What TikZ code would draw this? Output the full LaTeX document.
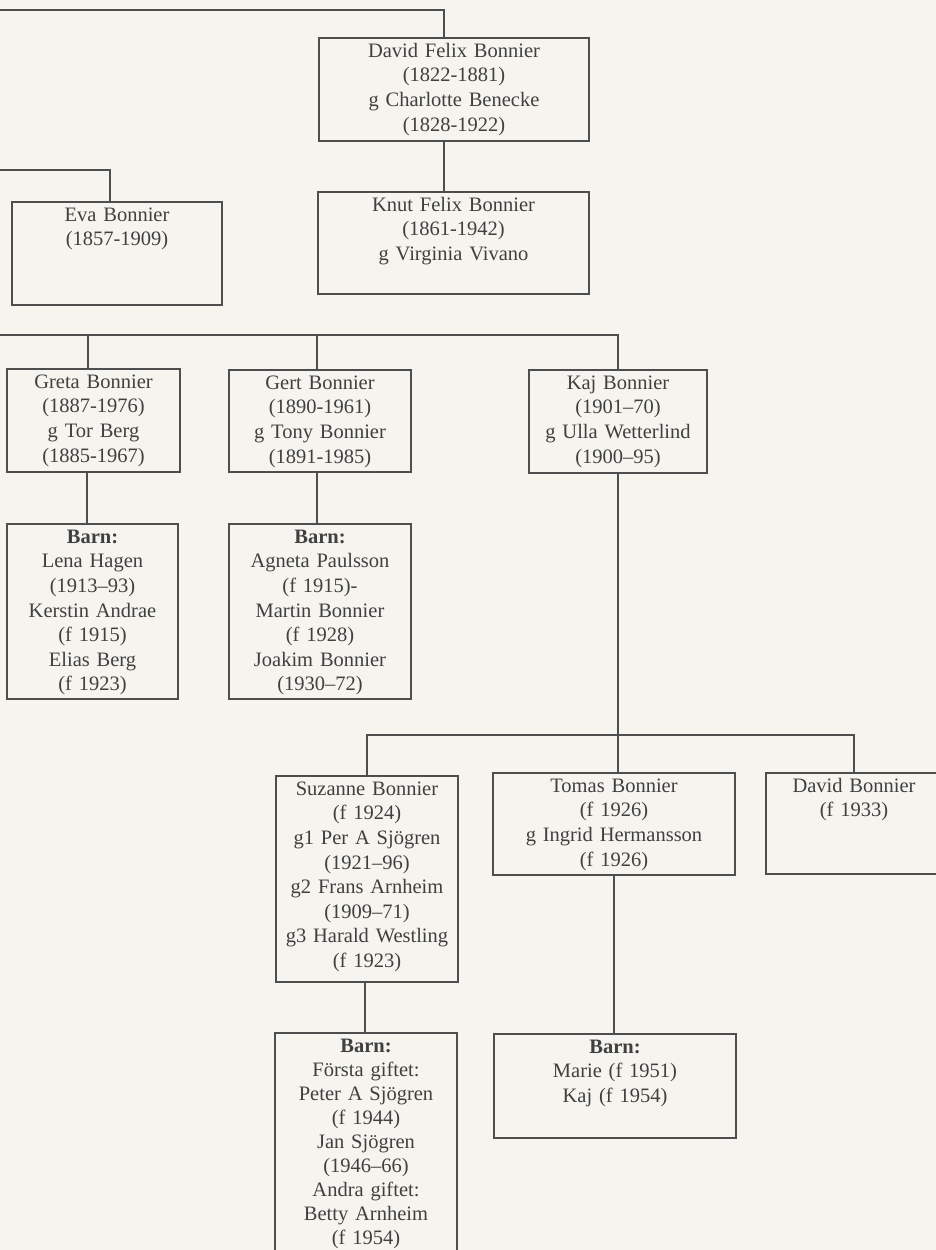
\documentclass[tikz,border=0pt]{standalone}
\usepackage{fontspec}
\setmainfont{Liberation Serif}
\definecolor{paper}{HTML}{F6F4EE}
\definecolor{ink}{HTML}{404040}
\definecolor{rulecol}{HTML}{4E4E4E}
\tikzset{
  famebox/.style={draw=rulecol, line width=1.3pt, rectangle, inner sep=0pt},
  conn/.style={draw=rulecol, line width=1.3pt},
  lbl/.style={text=ink, align=center, anchor=base, inner sep=0pt, text width=250pt,
    font=\fontsize{20.5}{24.6}\selectfont}
}
\begin{document}
\begin{tikzpicture}[x=1pt,y=-1pt]
\fill[paper] (0,0) rectangle (936,1250);
\useasboundingbox (0,0) rectangle (936,1250);
\clip (0,0) rectangle (936,1250);

% boxes
\node[famebox, minimum width=270pt, minimum height=103pt] (david)  at (454,89.5) {};
\node[famebox, minimum width=271pt, minimum height=102pt] (knut)   at (453.5,243) {};
\node[famebox, minimum width=210pt, minimum height=103pt] (eva)    at (117,253.5) {};
\node[famebox, minimum width=173pt, minimum height=103pt] (greta)  at (93.5,420.5) {};
\node[famebox, minimum width=182pt, minimum height=102pt] (gert)   at (320,421) {};
\node[famebox, minimum width=178pt, minimum height=103pt] (kaj)    at (618,421.5) {};
\node[famebox, minimum width=171pt, minimum height=175pt] (gretaB) at (92.5,611.5) {};
\node[famebox, minimum width=182pt, minimum height=175pt] (gertB)  at (320,611.5) {};
\node[famebox, minimum width=182pt, minimum height=206pt] (suz)    at (367,879) {};
\node[famebox, minimum width=242pt, minimum height=102pt] (tomas)  at (614,824) {};
\node[famebox, minimum width=176pt, minimum height=101pt] (davidB) at (854,823.5) {};
\node[famebox, minimum width=182pt, minimum height=237pt] (suzB)   at (366,1151.5) {};
\node[famebox, minimum width=242pt, minimum height=104pt] (tomasB) at (615,1086) {};

% texts
\node[lbl] (davidT) at ([yshift=-20pt]david.north) {David Felix Bonnier\\(1822-1881)\\g Charlotte Benecke\\(1828-1922)};
\node[lbl] (knutT) at ([yshift=-20pt]knut.north) {Knut Felix Bonnier\\(1861-1942)\\g Virginia Vivano};
\node[lbl] (evaT) at ([yshift=-20pt]eva.north) {Eva Bonnier\\(1857-1909)};
\node[lbl] (gretaT) at ([yshift=-20pt]greta.north) {Greta Bonnier\\(1887-1976)\\g Tor Berg\\(1885-1967)};
\node[lbl] (gertT) at ([yshift=-20pt]gert.north) {Gert Bonnier\\(1890-1961)\\g Tony Bonnier\\(1891-1985)};
\node[lbl] (kajT) at ([yshift=-20pt]kaj.north) {Kaj Bonnier\\(1901–70)\\g Ulla Wetterlind\\(1900–95)};
\node[lbl] (gretaBT) at ([yshift=-20pt]gretaB.north) {\textbf{Barn:}\\Lena Hagen\\(1913–93)\\Kerstin Andrae\\(f 1915)\\Elias Berg\\(f 1923)};
\node[lbl] (gertBT) at ([yshift=-20pt]gertB.north) {\textbf{Barn:}\\Agneta Paulsson\\(f 1915)-\\Martin Bonnier\\(f 1928)\\Joakim Bonnier\\(1930–72)};
\node[lbl] (suzT) at ([yshift=-20pt]suz.north) {Suzanne Bonnier\\(f 1924)\\g1 Per A Sjögren\\(1921–96)\\g2 Frans Arnheim\\(1909–71)\\g3 Harald Westling\\(f 1923)};
\node[lbl] (tomasT) at ([yshift=-20pt]tomas.north) {Tomas Bonnier\\(f 1926)\\g Ingrid Hermansson\\(f 1926)};
\node[lbl] (davidBT) at ([yshift=-20pt]davidB.north) {David Bonnier\\(f 1933)};
\node[lbl, font=\fontsize{20.5}{24}\selectfont] (suzBT) at ([yshift=-20pt]suzB.north) {\textbf{Barn:}\\Första giftet:\\Peter A Sjögren\\(f 1944)\\Jan Sjögren\\(1946–66)\\Andra giftet:\\Betty Arnheim\\(f 1954)};
\node[lbl] (tomasBT) at ([yshift=-20pt]tomasB.north) {\textbf{Barn:}\\Marie (f 1951)\\Kaj (f 1954)};

% connectors
\coordinate (topL) at (-5,10);
\coordinate (evaL) at (-5,170);
\coordinate (genL) at (-5,335);
\coordinate (bar) at (618,735);
\draw[conn] (topL) -| ([xshift=-10pt]david.north);
\draw[conn] ([xshift=-10pt]david.south) -- ([xshift=-10pt]david.south |- knut.north);
\draw[conn] (evaL) -| ([xshift=-7pt]eva.north);
\draw[conn] (genL) -| (kaj.north);
\draw[conn] ([xshift=-5.5pt]greta.north) -- ([xshift=-5.5pt]greta.north |- genL);
\draw[conn] ([xshift=-3pt]gert.north) -- ([xshift=-3pt]gert.north |- genL);
\draw[conn] ([xshift=-6.5pt]greta.south) -- ([xshift=-6.5pt]greta.south |- gretaB.north);
\draw[conn] ([xshift=-3pt]gert.south) -- ([xshift=-3pt]gert.south |- gertB.north);
\draw[conn] ([xshift=4pt]tomas.north |- kaj.south) -- ([xshift=4pt]tomas.north);
\draw[conn] (suz.north) |- (bar) -| (davidB.north);
\draw[conn] ([xshift=-2pt]suz.south) -- ([xshift=-2pt]suz.south |- suzB.north);
\draw[conn] (tomas.south) -- (tomas.south |- tomasB.north);
\end{tikzpicture}
\end{document}
